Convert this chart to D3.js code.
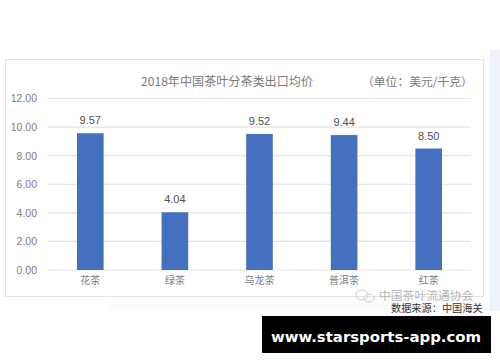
<!DOCTYPE html>
<html>
<head>
<meta charset="utf-8">
<script src="https://cdn.jsdelivr.net/npm/d3@7"></script>
<style>
    html, body { margin: 0; padding: 0; background: #fff; }
    svg { display: block; }
    text { font-family: "Liberation Sans", "Noto Sans CJK SC", sans-serif; }
</style>
</head>
<body>
<div id="chart"></div>
<script>
(function() {
    // Data
    const categories = ["花茶", "绿茶", "乌龙茶", "普洱茶", "红茶"];
    const prices = [9.57, 4.04, 9.52, 9.44, 8.50];
    const yTicks = [0, 2, 4, 6, 8, 10, 12];

    const width = 500;
    const height = 362;
    const margin = { top: 98.5, right: 29, bottom: 92, left: 48 };
    const cjk = '"Noto Sans CJK SC", sans-serif';

    const svg = d3.select("#chart").append("svg")
        .attr("width", width)
        .attr("height", height);

    // Pale panel on the right and the faint patch under the frame
    svg.append("rect").attr("x", 490).attr("y", 50).attr("width", 10).attr("height", 261).attr("fill", "#eef3fb");
    svg.append("rect").attr("x", 106).attr("y", 296).attr("width", 384).attr("height", 14).attr("fill", "#fcfcfd");

    // Chart frame
    svg.append("rect")
        .attr("x", 5.5).attr("y", 59.5)
        .attr("width", 478).attr("height", 237)
        .attr("fill", "#fff")
        .attr("stroke", "#e4e4e4");

    const x = d3.scaleBand()
        .domain(categories)
        .range([margin.left, width - margin.right])
        .paddingInner(0.685)
        .paddingOuter(0.3425);

    const y = d3.scaleLinear()
        .domain([0, 12])
        .range([height - margin.bottom, margin.top]);

    // Gridlines
    svg.append("g")
        .selectAll("line")
        .data(yTicks)
        .join("line")
        .attr("x1", margin.left)
        .attr("x2", width - margin.right)
        .attr("y1", d => y(d))
        .attr("y2", d => y(d))
        .attr("stroke", "#e3e3e5")
        .attr("stroke-width", 1.2);

    // Y axis labels
    const yAxis = svg.append("g")
        .attr("transform", `translate(${margin.left},0)`)
        .call(d3.axisLeft(y).tickValues(yTicks).tickSize(0).tickPadding(11).tickFormat(d3.format(".2f")));
    yAxis.select(".domain").remove();
    yAxis.selectAll("text")
        .attr("fill", "#7d7d7d")
        .style("font-size", "10.5px")
        .style("font-family", '"Liberation Sans", sans-serif');

    // Bars
    svg.append("g")
        .selectAll("rect")
        .data(prices)
        .join("rect")
        .attr("x", (d, i) => x(categories[i]))
        .attr("y", d => y(d))
        .attr("width", x.bandwidth())
        .attr("height", d => y(0) - y(d))
        .attr("fill", "#4470bf");

    // Value labels
    svg.append("g")
        .selectAll("text")
        .data(prices)
        .join("text")
        .attr("x", (d, i) => x(categories[i]) + x.bandwidth() / 2)
        .attr("y", d => y(d) - 9)
        .attr("text-anchor", "middle")
        .attr("fill", "#505050")
        .style("font-size", "11px")
        .text(d => d.toFixed(2));

    // Category labels
    const xAxis = svg.append("g")
        .attr("transform", `translate(0,${height - margin.bottom})`)
        .call(d3.axisBottom(x).tickSize(0).tickPadding(7));
    xAxis.select(".domain").remove();
    xAxis.selectAll("text")
        .attr("fill", "#7d7d7d")
        .style("font-size", "10px")
        .style("font-family", cjk);

    // Title and unit
    svg.append("text")
        .attr("x", 141).attr("y", 86)
        .attr("fill", "#7a7a7a")
        .style("font-size", "12.1px")
        .style("font-family", cjk)
        .text("2018年中国茶叶分茶类出口均价");

    svg.append("text")
        .attr("x", 362).attr("y", 86)
        .attr("fill", "#7a7a7a")
        .style("font-size", "11.8px")
        .style("font-family", cjk)
        .text("（单位：美元/千克）");

    // Watermark icon
    const icon = svg.append("g")
        .attr("fill", "none")
        .attr("stroke", "#cfcfcf")
        .attr("stroke-width", 1);
    icon.append("ellipse").attr("cx", 362).attr("cy", 295).attr("rx", 6).attr("ry", 5);
    icon.append("ellipse").attr("cx", 369).attr("cy", 298).attr("rx", 5).attr("ry", 4);

    // Watermark and source
    svg.append("text")
        .attr("x", 379).attr("y", 300)
        .attr("fill", "#b5b5b5")
        .style("font-size", "11.8px")
        .style("font-family", cjk)
        .text("中国茶叶流通协会");

    svg.append("text")
        .attr("x", 391).attr("y", 312)
        .attr("fill", "#333")
        .style("font-size", "10.2px")
        .style("font-family", cjk)
        .text("数据来源：中国海关");

    // Black banner
    svg.append("rect")
        .attr("x", 262).attr("y", 316)
        .attr("width", 229).attr("height", 37)
        .attr("fill", "#000");

    svg.append("text")
        .attr("x", 376).attr("y", 342)
        .attr("text-anchor", "middle")
        .attr("fill", "#fff")
        .style("font-family", '"DejaVu Sans", sans-serif')
        .style("font-weight", "bold")
        .style("font-size", "14.9px")
        .text("www.starsports-app.com");
})();
</script>
</body>
</html>
